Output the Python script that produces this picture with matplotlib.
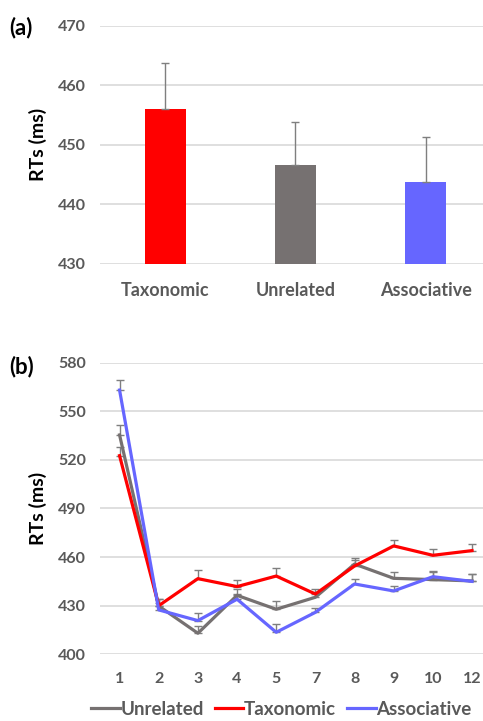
import matplotlib.pyplot as plt
import numpy as np

plt.rcParams['font.family'] = ['Lato', 'DejaVu Sans']

# panel (a)
bar_labels = ["Taxonomic", "Unrelated", "Associative"]
bar_means = [456.0, 446.6, 443.8]
bar_err = [7.7, 7.3, 7.5]
bar_colors = ["#FF0000", "#767171", "#6666FF"]

# panel (b)
blocks = ["1", "2", "3", "4", "5", "7", "8", "9", "10", "12"]
unrelated = [535.4, 429.8, 413.0, 436.4, 427.8, 435.2, 455.7, 446.9, 446.1, 445.3]
unrelated_err = [6.1, 4.5, 4.7, 4.1, 5.1, 3.5, 3.7, 3.7, 5.3, 4.3]
taxonomic = [522.6, 430.0, 446.7, 441.8, 448.3, 437.2, 454.5, 466.9, 461.1, 464.0]
taxonomic_err = [5.6, 4.0, 5.3, 3.9, 5.0, 2.8, 3.5, 3.4, 3.9, 4.3]
associative = [563.1, 427.4, 420.8, 434.0, 413.6, 425.9, 443.4, 439.1, 447.9, 445.0]
associative_err = [6.2, 4.0, 4.9, 3.5, 5.3, 2.7, 3.1, 3.3, 3.1, 4.6]

tick_color = "#595959"
grid_color = "#D9D9D9"

fig = plt.figure(figsize=(4.83, 7.21), dpi=100)

def style_axis(ax):
    for s in ax.spines.values():
        s.set_visible(False)
    ax.yaxis.grid(True, color=grid_color, linewidth=1.2)
    ax.set_axisbelow(True)
    ax.tick_params(length=0, colors=tick_color, labelsize=11.5, pad=10)
    for lab in ax.get_xticklabels() + ax.get_yticklabels():
        lab.set_fontweight('bold')
    ax.set_ylabel("RTs (ms)", fontsize=14, fontweight='bold', labelpad=8)

ax1 = fig.add_axes([0.207, 0.634, 0.793, 0.330])
x = np.arange(len(bar_labels))
ax1.bar(x, bar_means, width=0.314, color=bar_colors, zorder=2)
ax1.errorbar(x, bar_means, yerr=[np.zeros(3), bar_err], fmt='none',
             ecolor='#7F7F7F', elinewidth=1, capsize=3, capthick=1, zorder=3)
ax1.set_xlim(-0.5, 2.44)
ax1.set_ylim(430, 470)
ax1.set_yticks([430, 440, 450, 460, 470])
ax1.set_xticks(x)
ax1.set_xticklabels(bar_labels)
style_axis(ax1)
ax1.tick_params(axis='x', labelsize=13, pad=13)
fig.text(0.02, 0.952, "(a)", fontsize=16, fontweight='bold')

ax2 = fig.add_axes([0.207, 0.0925, 0.793, 0.4045])
xb = np.arange(len(blocks))
series = [
    ("Unrelated", unrelated, unrelated_err, "#767171"),
    ("Taxonomic", taxonomic, taxonomic_err, "#FF0000"),
    ("Associative", associative, associative_err, "#6666FF"),
]
for name, vals, err, col in series:
    ax2.errorbar(xb, vals, yerr=[np.zeros(len(vals)), err], fmt='none',
                 ecolor='#7F7F7F', elinewidth=1, capsize=3, capthick=1, zorder=2)
    ax2.plot(xb, vals, color=col, linewidth=2.3, label=name, zorder=3)
ax2.set_xlim(-0.5, 9.28)
ax2.set_ylim(400, 580)
ax2.set_yticks([400, 430, 460, 490, 520, 550, 580])
ax2.set_xticks(xb)
ax2.set_xticklabels(blocks)
style_axis(ax2)
ax2.tick_params(axis='x', pad=13)
fig.text(0.02, 0.482, "(b)", fontsize=16, fontweight='bold')

leg = fig.legend(loc='center', bbox_to_anchor=(0.583, 0.016), ncol=3, frameon=False,
                 handlelength=1.5, handletextpad=0.05, columnspacing=0.6,
                 prop={'size': 13.5, 'weight': 'bold'})
for t in leg.get_texts():
    t.set_color(tick_color)

fig.savefig("out.png", dpi=100)
